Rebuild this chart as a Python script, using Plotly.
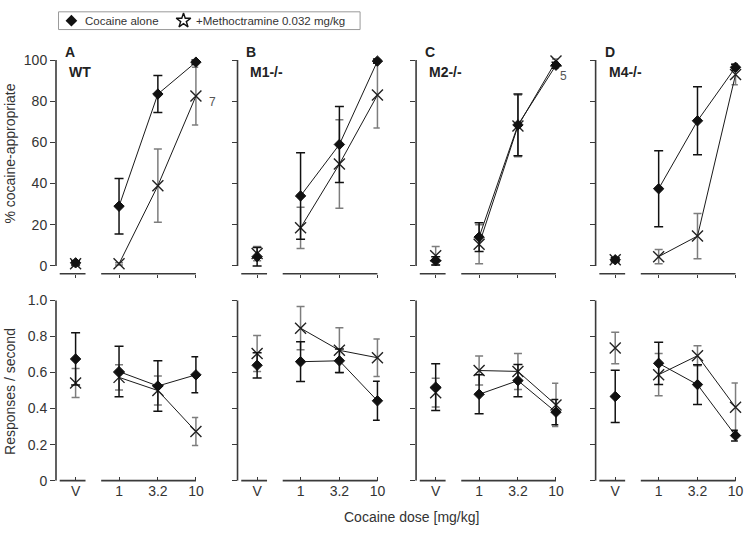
import math
import plotly.graph_objects as go

# ---------------- data ----------------
dose_labels = ["V", "1", "3.2", "10"]
doses = [1, 3.2, 10]
genotypes = ["WT", "M1-/-", "M2-/-", "M4-/-"]
panel_letters = ["A", "B", "C", "D"]
series_names = ["Cocaine alone", "+Methoctramine 0.032 mg/kg"]

# % cocaine-appropriate responding, order: V, 1, 3.2, 10 mg/kg
pct_coc = [[1.5, 29, 83.5, 99], [4.5, 34, 59, 99.5], [2.5, 14, 68.5, 97.5], [3, 37.5, 70.5, 96.5]]
pct_coc_err = [[1, 13.5, 9, 1], [4.5, 21, 18.5, 1], [2, 7, 15, 1.5], [1, 18.5, 16.5, 1.5]]
pct_meth = [[1, 1, 39, 82.5], [6, 18.5, 49.5, 83], [5, 10.5, 68, 99.5], [3, 4.5, 14.5, 93]]
pct_meth_err = [[1, 0.5, 17.8, 14], [3.5, 10, 21.5, 16], [4.5, 9.5, 15, 1], [1, 3.5, 11, 5]]

# Responses / second
rate_coc = [[0.675, 0.605, 0.525, 0.587], [0.64, 0.66, 0.665, 0.443],
            [0.519, 0.479, 0.555, 0.38], [0.467, 0.651, 0.533, 0.25]]
rate_coc_err = [[0.145, 0.14, 0.14, 0.1], [0.07, 0.11, 0.065, 0.108],
                [0.13, 0.108, 0.09, 0.07], [0.145, 0.117, 0.11, 0.03]]
rate_meth = [[0.542, 0.573, 0.5, 0.273], [0.705, 0.846, 0.723, 0.682],
             [0.488, 0.611, 0.606, 0.42], [0.736, 0.588, 0.693, 0.407]]
rate_meth_err = [[0.08, 0.07, 0.08, 0.078], [0.1, 0.12, 0.125, 0.104],
                 [0.08, 0.08, 0.1, 0.12], [0.087, 0.117, 0.055, 0.135]]

# n labels: (panel, series, dose index, text, xshift, yshift)
n_labels = [(0, 1, 3, "7", 17, -6), (2, 1, 3, "5", 8, -15)]

pct_ticks = [0, 20, 40, 60, 80, 100]
rate_ticks = [0, 0.2, 0.4, 0.6, 0.8, 1.0]
rate_ticktext = ["0", "0.2", "0.4", "0.6", "0.8", "1.0"]

# ---------------- layout geometry ----------------
W, H = 746, 531          # figure size (page adds a few px around it)
FONT = "Liberation Sans, Arial, Helvetica, sans-serif"
TXT = "#333333"
AX = "#3a3a3a"
V_POS = -0.565
x_dose = [math.log10(d) for d in doses]
x_all = [V_POS] + x_dose
X_LEFT, X_RIGHT = -0.82, 1.03
PX_UNIT = 77.5
p0 = [120, 303, 483, 664]          # pixel of dose 1 in each column


def fx(px):
    return min(max(px / W, 0), 1)


def fy(py):
    return min(max(1 - py / H, 0), 1)


top_range = [-3.83, 104]
top_dom = [fy(278), fy(270 - 104 * 2.09)]
bot_range = [0, 1.06]
bot_dom = [fy(488), fy(488 - 1.06 * 183)]


def sfx(k):
    return "" if k == 1 else str(k)


fig = go.Figure()
shapes = []
annotations = []
layout = {}

meth_err_col = "#7d7d7d"
MARK = {
    series_names[0]: dict(symbol="diamond", size=8, color="#111111", lw=1,
                          ecolor="#111111", ewidth=4.5),
    series_names[1]: dict(symbol="x-thin-open", size=11, color="#222222", lw=1.4,
                          ecolor=meth_err_col, ewidth=4),
}


def add_series(k, y, err, name):
    m = MARK[name]
    xa, ya = "x" + sfx(k), "y" + sfx(k)
    mk = dict(symbol=m["symbol"], size=m["size"], color=m["color"],
              line=dict(color=m["color"], width=m["lw"]))
    fig.add_trace(go.Scatter(
        x=[x_all[0]], y=[y[0]], mode="markers", xaxis=xa, yaxis=ya,
        error_y=dict(type="data", array=[err[0]], thickness=1.5, width=m["ewidth"], color=m["ecolor"]),
        marker=mk, showlegend=False, cliponaxis=False, name=name))
    fig.add_trace(go.Scatter(
        x=x_all[1:], y=y[1:], mode="lines+markers", xaxis=xa, yaxis=ya,
        line=dict(color="#1a1a1a", width=1),
        error_y=dict(type="data", array=err[1:], thickness=1.5, width=m["ewidth"], color=m["ecolor"]),
        marker=mk, showlegend=False, cliponaxis=False, name=name))


for row in range(2):
    for c in range(4):
        k = row * 4 + c + 1
        s = sfx(k)
        left_px = p0[c] + X_LEFT * PX_UNIT
        right_px = p0[c] + X_RIGHT * PX_UNIT
        layout["xaxis" + s] = dict(
            domain=[fx(left_px), fx(right_px)], range=[X_LEFT, X_RIGHT],
            anchor="y" + s, showline=False, showgrid=False, zeroline=False,
            tickmode="array", tickvals=x_all, ticktext=dose_labels,
            ticks="outside" if row == 0 else "inside", ticklen=3 if row == 0 else 4,
            tickwidth=1.3, tickcolor=AX,
            showticklabels=(row == 1),
            tickfont=dict(family=FONT, size=14, color=TXT), fixedrange=True)
        if row == 0:
            layout["yaxis" + s] = dict(
                domain=top_dom, range=top_range, anchor="x" + s,
                showline=False, showgrid=False, zeroline=False,
                tickmode="array", tickvals=pct_ticks, ticks="outside", ticklen=5,
                tickwidth=1.3, tickcolor=AX, showticklabels=(c == 0),
                tickfont=dict(family=FONT, size=14, color=TXT), fixedrange=True)
            ytop = 100
        else:
            layout["yaxis" + s] = dict(
                domain=bot_dom, range=bot_range, anchor="x" + s,
                showline=False, showgrid=False, zeroline=False,
                tickmode="array", tickvals=rate_ticks, ticktext=rate_ticktext,
                ticks="outside", ticklen=5,
                tickwidth=1.3, tickcolor=AX, showticklabels=(c == 0),
                tickfont=dict(family=FONT, size=14, color=TXT), fixedrange=True)
            ytop = 1.0
        shapes.append(dict(type="line", xref="x" + s + " domain", yref="y" + s,
                           x0=0, x1=0, y0=0, y1=ytop, line=dict(color=AX, width=1.6)))
        seg_v = (V_POS - 16 / PX_UNIT, V_POS + 10 / PX_UNIT)
        seg_d = (-18 / PX_UNIT, x_dose[-1])
        for (a, b) in (seg_v, seg_d):
            shapes.append(dict(type="line", xref="x" + s, yref="y" + s + " domain",
                               x0=a, x1=b, y0=0, y1=0, line=dict(color=AX, width=1.6)))

        if row == 0:
            add_series(k, pct_meth[c], pct_meth_err[c], series_names[1])
            add_series(k, pct_coc[c], pct_coc_err[c], series_names[0])
        else:
            add_series(k, rate_meth[c], rate_meth_err[c], series_names[1])
            add_series(k, rate_coc[c], rate_coc_err[c], series_names[0])

for c in range(4):
    left_px = p0[c] + X_LEFT * PX_UNIT
    annotations.append(dict(text=f"<b>{panel_letters[c]}</b>", xref="paper", yref="paper",
                            x=fx(left_px + 7), y=fy(53), xanchor="left", yanchor="middle",
                            showarrow=False, font=dict(family=FONT, size=14, color="#222")))
    annotations.append(dict(text=f"<b>{genotypes[c]}</b>", xref="paper", yref="paper",
                            x=fx(left_px + 11), y=fy(73.5), xanchor="left", yanchor="middle",
                            showarrow=False, font=dict(family=FONT, size=14, color="#222")))

for (c, sr, di, txt, dx, dy) in n_labels:
    yv = (pct_meth if sr == 1 else pct_coc)[c][di]
    s = sfx(c + 1)
    annotations.append(dict(text=txt, xref="x" + s, yref="y" + s,
                            x=x_all[di], y=yv, xshift=dx, yshift=dy, showarrow=False,
                            font=dict(family=FONT, size=12, color="#555")))

annotations.append(dict(text="% cocaine-appropriate", xref="paper", yref="paper",
                        x=fx(10), y=fy(156), textangle=-90, showarrow=False,
                        xanchor="center", yanchor="middle",
                        font=dict(family=FONT, size=14, color=TXT)))
annotations.append(dict(text="Responses / second", xref="paper", yref="paper",
                        x=fx(10), y=fy(397), textangle=-90, showarrow=False,
                        xanchor="center", yanchor="middle",
                        font=dict(family=FONT, size=14, color=TXT)))
annotations.append(dict(text="Cocaine dose [mg/kg]", xref="paper", yref="paper",
                        x=fx(415), y=fy(525), showarrow=False,
                        xanchor="center", yanchor="middle",
                        font=dict(family=FONT, size=14, color=TXT)))

# ---------------- legend (drawn box at top, keys on a pixel-scaled overlay axis) ----------------
LEG_BOX = (59, 12, 363, 30)            # px: left, top, right, bottom
LEG_KEYS = [(72, 84), (185, 196)]      # px: key centre, text start
LEG_SYMBOLS = [dict(symbol="diamond", size=9, color="#111", line=dict(width=0)),
               dict(symbol="star-open", size=11, color="#111", line=dict(width=1.4, color="#111"))]
yc = (LEG_BOX[1] + LEG_BOX[3]) / 2
shapes.append(dict(type="rect", xref="paper", yref="paper",
                   x0=fx(LEG_BOX[0]), x1=fx(LEG_BOX[2]), y0=fy(LEG_BOX[1]), y1=fy(LEG_BOX[3]),
                   line=dict(color="#9a9a9a", width=1)))
layout["xaxis9"] = dict(domain=[0, 1], range=[0, W], showgrid=False, zeroline=False,
                        showticklabels=False, ticks="", showline=False, fixedrange=True, anchor="y9")
layout["yaxis9"] = dict(domain=[0, 1], range=[H, 0], showgrid=False, zeroline=False,
                        showticklabels=False, ticks="", showline=False, fixedrange=True, anchor="x9")
for (kx, tx), sym, name in zip(LEG_KEYS, LEG_SYMBOLS, series_names):
    fig.add_trace(go.Scatter(x=[kx], y=[yc], mode="markers", marker=sym, xaxis="x9", yaxis="y9",
                             showlegend=False, hoverinfo="skip", name=name))
    annotations.append(dict(text=name, xref="paper", yref="paper", x=fx(tx), y=fy(yc),
                            xanchor="left", yanchor="middle", showarrow=False,
                            font=dict(family=FONT, size=11.5, color=TXT)))

fig.update_layout(
    width=W, height=H, margin=dict(l=0, r=0, t=0, b=0),
    paper_bgcolor="white", plot_bgcolor="rgba(0,0,0,0)",
    showlegend=False,
    shapes=shapes, annotations=annotations, **layout)

fig.write_html("out.html", config={"displayModeBar": False},
               post_script="document.body.style.margin='0px';")
